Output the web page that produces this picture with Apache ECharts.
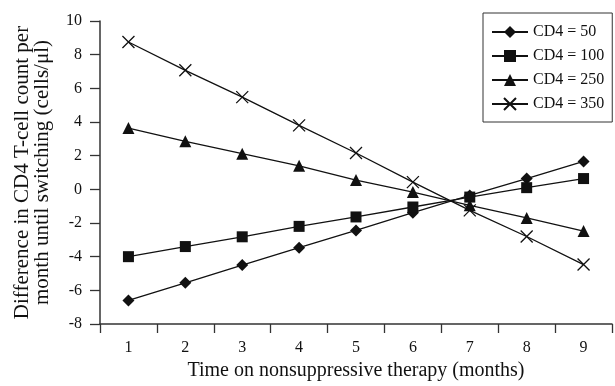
<!DOCTYPE html>
<html>
<head>
<meta charset="utf-8">
<script src="https://cdn.jsdelivr.net/npm/echarts@6/dist/echarts.min.js"></script>
<style>
html,body{margin:0;padding:0;background:#fff;}
#chart{width:615px;height:386px;}
</style>
</head>
<body>
<div id="chart"></div>
<script>
var months = ['1', '2', '3', '4', '5', '6', '7', '8', '9'];
var cd4_50 = [-6.6, -5.55, -4.5, -3.47, -2.44, -1.39, -0.36, 0.64, 1.66];
var cd4_100 = [-4.0, -3.4, -2.82, -2.2, -1.64, -1.05, -0.46, 0.1, 0.64];
var cd4_250 = [3.64, 2.85, 2.12, 1.4, 0.55, -0.16, -0.95, -1.7, -2.48];
var cd4_350 = [8.75, 7.07, 5.48, 3.8, 2.16, 0.43, -1.25, -2.8, -4.47];

var ink = '#111';
var serif = 'Liberation Serif';

function mkSeries(name, data, symbol, size, cross){
	var s = {
		name: name,
		type: 'line',
		data: data,
		symbol: symbol,
		symbolSize: size,
		showAllSymbol: true,
		lineStyle: {color: ink, width: 1.3},
		itemStyle: {color: ink},
		emphasis: {disabled: true},
		animation: false
	};
	if(cross){
		s.itemStyle = {color: 'transparent', borderColor: ink, borderWidth: 1.3};
	}
	return s;
}

var chart = echarts.init(document.getElementById('chart'));
chart.setOption({
	backgroundColor: '#fff',
	animation: false,
	grid: {left: 100, right: 3, top: 21, bottom: 62},
	legend: {
		orient: 'vertical',
		left: 483,
		top: 13,
		padding: [11, 8, 10, 8],
		borderColor: '#333',
		borderWidth: 1,
		itemWidth: 36,
		itemHeight: 15,
		itemGap: 8,
		textStyle: {fontFamily: serif, fontSize: 16, color: ink, lineHeight: 16},
		data: ['CD4 = 50', 'CD4 = 100', 'CD4 = 250', 'CD4 = 350']
	},
	xAxis: {
		type: 'category',
		data: months,
		boundaryGap: true,
		name: 'Time on nonsuppressive therapy (months)',
		nameLocation: 'middle',
		nameGap: 37,
		nameTextStyle: {fontFamily: serif, fontSize: 20, color: ink},
		axisLine: {onZero: false, lineStyle: {color: '#333', width: 1.5}},
		axisTick: {show: true, length: 9, inside: false, lineStyle: {color: '#333', width: 1.3}},
		axisLabel: {fontFamily: serif, fontSize: 16, color: ink, margin: 16},
		splitLine: {show: false}
	},
	yAxis: {
		type: 'value',
		min: -8,
		max: 10,
		interval: 2,
		name: 'Difference in CD4 T-cell count per\nmonth until switching (cells/\u03bcl)',
		nameLocation: 'middle',
		nameRotate: 90,
		nameGap: 48,
		nameTextStyle: {fontFamily: serif, fontSize: 21, color: ink, lineHeight: 20},
		axisLine: {show: true, onZero: false, lineStyle: {color: '#333', width: 1.5}},
		axisTick: {show: true, length: 10, lineStyle: {color: '#333', width: 1.3}},
		axisLabel: {fontFamily: serif, fontSize: 16, color: ink, margin: 18},
		splitLine: {show: false}
	},
	series: [
		mkSeries('CD4 = 50', cd4_50, 'diamond', 12, false),
		mkSeries('CD4 = 100', cd4_100, 'rect', 11, false),
		mkSeries('CD4 = 250', cd4_250, 'triangle', 12, false),
		mkSeries('CD4 = 350', cd4_350, 'path://M0,0L10,10M10,0L0,10', 12, true)
	]
});
</script>
</body>
</html>
